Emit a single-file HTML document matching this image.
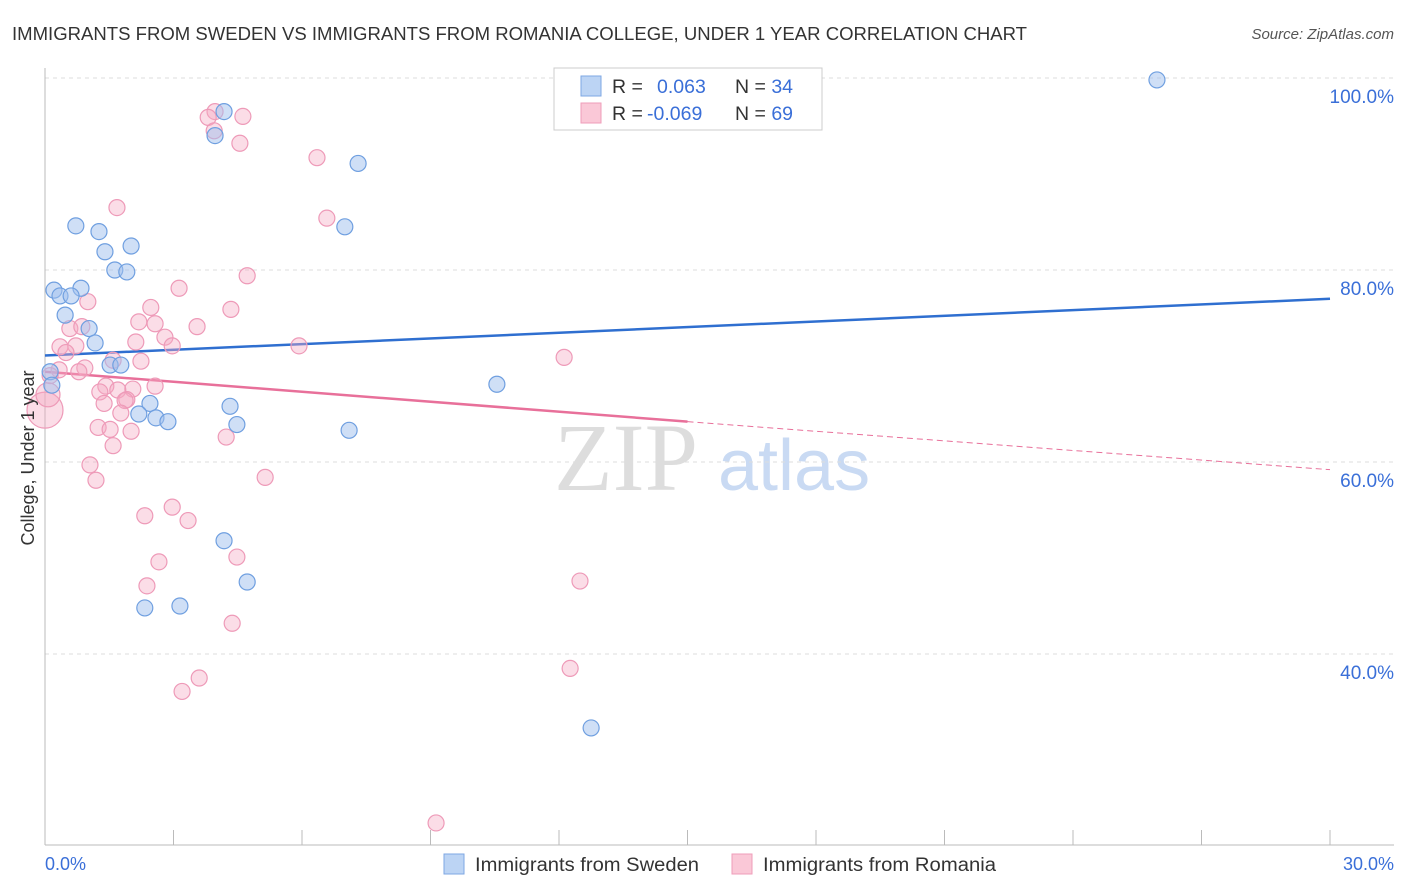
<!DOCTYPE html>
<html><head><meta charset="utf-8"><style>
body{margin:0;background:#fff;font-family:"Liberation Sans",sans-serif;}
svg{display:block}
</style></head><body>
<svg id="chart" width="1406" height="892">
<text x="12" y="40" font-size="18" fill="#333" textLength="1015" lengthAdjust="spacingAndGlyphs">IMMIGRANTS FROM SWEDEN VS IMMIGRANTS FROM ROMANIA COLLEGE, UNDER 1 YEAR CORRELATION CHART</text>
<text x="1394" y="39" font-size="15" fill="#555" font-style="italic" text-anchor="end">Source: ZipAtlas.com</text>
<text x="554" y="490" font-size="96" fill="#ddd" font-family="Liberation Serif,serif">ZIP</text>
<text x="718" y="490" font-size="72" fill="#c9daf3">atlas</text>
<g id="grid"></g><g id="axes"></g><g id="lines"></g><g id="pts"></g>
<text transform="translate(34,458) rotate(-90)" font-size="18" fill="#333" text-anchor="middle">College, Under 1 year</text>
<text x="45" y="870" font-size="18" fill="#3a6fd8">0.0%</text>
<text x="1394" y="870" font-size="18" fill="#3a6fd8" text-anchor="end">30.0%</text>
<g>
<rect x="554" y="68" width="268" height="62" fill="#fff" stroke="#ccc"/>
<rect x="581" y="76" width="20" height="20" fill="#bcd4f4" stroke="#7ea7e3"/>
<rect x="581" y="103" width="20" height="20" fill="#fac8d7" stroke="#ef9dba"/>
<text x="612" y="93" font-size="19.5" fill="#333">R = <tspan fill="#3a6fd8" x="657">0.063</tspan><tspan x="735">N = </tspan><tspan fill="#3a6fd8">34</tspan></text>
<text x="612" y="120" font-size="19.5" fill="#333">R = <tspan fill="#3a6fd8" x="647">-0.069</tspan><tspan x="735">N = </tspan><tspan fill="#3a6fd8">69</tspan></text>
</g>
<g>
<rect x="444" y="854" width="20" height="20" fill="#bcd4f4" stroke="#7ea7e3"/>
<text x="475" y="871" font-size="19" fill="#333" textLength="224" lengthAdjust="spacingAndGlyphs">Immigrants from Sweden</text>
<rect x="732" y="854" width="20" height="20" fill="#fac8d7" stroke="#ef9dba"/>
<text x="763" y="871" font-size="19" fill="#333" textLength="233" lengthAdjust="spacingAndGlyphs">Immigrants from Romania</text>
</g>
</svg>
<script>
const swedenX=[4.18,3.97,7.31,0.72,1.26,7.00,2.01,1.40,1.63,1.91,0.21,0.84,0.35,0.61,0.47,1.03,1.17,1.52,1.77,10.55,0.12,0.16,2.45,4.32,2.19,2.59,2.87,4.48,7.10,4.18,4.72,2.33,3.15,12.75,25.96];
const swedenY=[96.5,94.0,91.1,84.6,84.0,84.5,82.5,81.9,80.0,79.8,77.9,78.1,77.3,77.3,75.3,73.9,72.4,70.1,70.1,68.1,69.4,68.0,66.1,65.8,65.0,64.6,64.2,63.9,63.3,51.8,47.5,44.8,45.0,32.3,99.8];
const romaniaX=[3.97,4.62,3.81,3.95,4.55,6.35,1.68,6.58,4.72,3.13,1.00,2.47,4.34,2.19,2.57,3.55,0.58,0.86,2.80,2.12,2.97,5.93,0.35,0.72,0.49,12.12,2.24,1.59,0.93,0.33,0.79,0.12,1.42,2.57,2.05,1.28,1.70,1.91,1.38,1.87,1.77,1.24,1.52,2.01,4.23,1.59,1.05,1.19,5.14,2.33,2.97,3.34,2.66,4.48,2.38,12.49,4.37,12.26,3.60,3.20,9.13,0.0,0.07];
const romaniaY=[96.5,96.0,95.9,94.5,93.2,91.7,86.5,85.4,79.4,78.1,76.7,76.1,75.9,74.6,74.4,74.1,73.9,74.1,73.0,72.5,72.1,72.1,72.0,72.1,71.4,70.9,70.5,70.6,69.8,69.6,69.4,69.0,67.9,67.9,67.6,67.3,67.5,66.5,66.1,66.4,65.1,63.6,63.4,63.2,62.6,61.7,59.7,58.1,58.4,54.4,55.3,53.9,49.6,50.1,47.1,47.6,43.2,38.5,37.5,36.1,22.4,65.4,67.0];
const romaniaR=[8,8,8,8,8,8,8,8,8,8,8,8,8,8,8,8,8,8,8,8,8,8,8,8,8,8,8,8,8,8,8,8,8,8,8,8,8,8,8,8,8,8,8,8,8,8,8,8,8,8,8,8,8,8,8,8,8,8,8,8,8,18,12];
const yTicks=[100,80,60,40];
const yTickLabels=["100.0%","80.0%","60.0%","40.0%"];
const xTicks=[0,3,6,9,12,15,18,21,24,27,30];
const swedenTrend=[71.1,77.0];
const romaniaTrend=[69.4,64.2,59.2];
const NS="http://www.w3.org/2000/svg";
const X=v=>45+v*(1285/30);
const Y=v=>78+(100-v)*9.6;
function mk(p,t,a){const e=document.createElementNS(NS,t);for(const k in a)e.setAttribute(k,a[k]);document.getElementById(p).appendChild(e);return e;}
yTicks.forEach((t,i)=>{
 const l=mk('grid','line',{x1:45,x2:1394,y1:Y(t),y2:Y(t),stroke:'#ddd','stroke-dasharray':'4,4'});
 
 
 const tx=mk('grid','text',{x:1394,y:Y(t)+25,'font-size':19,fill:'#3a6fd8','text-anchor':'end'});
 tx.textContent=yTickLabels[i];
 
 
});
const ya=mk('axes','line',{x1:45,x2:45,y1:68,y2:845,stroke:'#bbb'});


const xa=mk('axes','line',{x1:45,x2:1394,y1:845,y2:845,stroke:'#bbb'});


xTicks.forEach(t=>{
 const l=mk('axes','line',{x1:X(t),x2:X(t),y1:830,y2:845,stroke:'#bbb'});
 
 
});
const bl=mk('lines','line',{x1:X(0),y1:Y(swedenTrend[0]),x2:X(30),y2:Y(swedenTrend[1]),stroke:'#2f6fd0','stroke-width':2.5});


const pl=mk('lines','line',{x1:X(0),y1:Y(romaniaTrend[0]),x2:X(15),y2:Y(romaniaTrend[1]),stroke:'#e8709a','stroke-width':2.5});


const pd=mk('lines','line',{x1:X(15),y1:Y(romaniaTrend[1]),x2:X(30),y2:Y(romaniaTrend[2]),stroke:'#e8709a','stroke-width':1,'stroke-dasharray':'6,4'});


romaniaX.forEach((x,i)=>{
 const c=mk('pts','circle',{cx:X(x),cy:Y(romaniaY[i]),r:romaniaR[i],fill:'rgba(245,170,196,0.4)',stroke:'#ee9ab8','stroke-width':1.2});
 
 
});
swedenX.forEach((x,i)=>{
 const c=mk('pts','circle',{cx:X(x),cy:Y(swedenY[i]),r:8,fill:'rgba(160,192,238,0.5)',stroke:'#6f9fe0','stroke-width':1.2});
 
 
});
</script>
</body></html>
